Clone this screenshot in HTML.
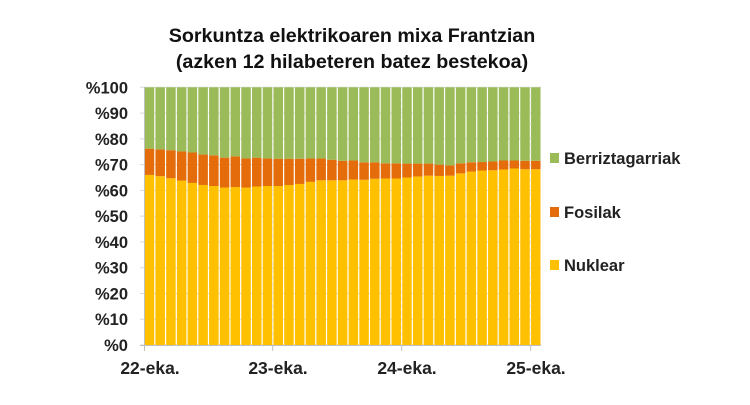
<!DOCTYPE html>
<html><head><style>body{margin:0;background:#fff}</style></head><body>
<svg width="750" height="400" xmlns="http://www.w3.org/2000/svg" font-family="Liberation Sans, sans-serif">
<rect width="750" height="400" fill="#fff"/>
<text x="352" y="42" font-size="19.7" font-weight="bold" text-anchor="middle" fill="#111">Sorkuntza elektrikoaren mixa Frantzian</text>
<text x="352" y="68" font-size="19.7" font-weight="bold" text-anchor="middle" fill="#111">(azken 12 hilabeteren batez bestekoa)</text>
<g id="grid" stroke="#d9d9d9" stroke-width="1"></g>
<g id="bars"></g>
<g id="vgrid" stroke="#e6e6e6" stroke-dasharray="4,3" stroke-width="1" opacity="0.8"></g>
<line x1="144.5" y1="87" x2="144.5" y2="345" stroke="#bfbfbf"/>
<line x1="140" y1="345.5" x2="541" y2="345.5" stroke="#bfbfbf"/>
<g stroke="#bfbfbf"><line x1="144.5" y1="345" x2="144.5" y2="351"/><line x1="272.7" y1="345" x2="272.7" y2="351"/><line x1="401.7" y1="345" x2="401.7" y2="351"/><line x1="530.7" y1="345" x2="530.7" y2="351"/></g>
<g id="lab" font-size="16.5" font-weight="bold" fill="#222" text-anchor="end"></g>
<g font-size="17.5" font-weight="bold" fill="#222" text-anchor="middle">
<text x="150" y="374">22-eka.</text><text x="278" y="374">23-eka.</text><text x="407" y="374">24-eka.</text><text x="536" y="374">25-eka.</text>
</g>
<rect x="550" y="153" width="9" height="10" fill="#9bbb59"/>
<rect x="550" y="207" width="9" height="10" fill="#e46c0a"/>
<rect x="550" y="260" width="9" height="10" fill="#ffc000"/>
<g font-size="16.5" font-weight="bold" fill="#222">
<text x="564" y="164">Berriztagarriak</text><text x="564" y="218">Fosilak</text><text x="564" y="271">Nuklear</text>
</g>
</svg>
<script>
var F=[76.2,75.9,75.6,75.1,74.7,73.9,73.6,72.7,73.2,72.4,72.7,72.4,72.3,72.3,72.3,72.4,72.4,71.9,71.5,71.6,70.9,70.9,70.5,70.5,70.4,70.4,70.4,70,69.7,70.5,70.9,71,71.2,71.6,71.6,71.5,71.5];
var N=[66,65.5,64.7,63.8,62.9,62.1,61.7,61.1,61.3,61.1,61.5,61.7,61.7,62.1,62.5,63.3,63.9,63.9,63.9,64.2,64.1,64.5,64.6,64.6,65,65.4,65.7,65.6,65.7,66.6,67.3,67.7,67.8,68.1,68.5,68.2,68.2];
var ns="http://www.w3.org/2000/svg",b=document.getElementById("bars"),y0=345,s=2.577,w=10.73,x0=144.7;
function r(x,y,wd,h,c){var e=document.createElementNS(ns,"rect");e.setAttribute("x",x);e.setAttribute("y",y);e.setAttribute("width",wd);e.setAttribute("height",h);e.setAttribute("fill",c);b.appendChild(e);}
for(var i=0;i<37;i++){var x=x0+i*w,bw=w-1.2;var yn=y0-N[i]*s,yf=y0-F[i]*s,yt=y0-100*s;
r(x,yn,bw,N[i]*s,"#ffc000");r(x,yf,bw,yn-yf,"#e46c0a");r(x,yt,bw,yf-yt,"#9bbb59");}
var g=document.getElementById("grid"),vg=document.getElementById("vgrid"),l=document.getElementById("lab");
for(var k=0;k<=10;k++){var y=y0-k*10*s;var e=document.createElementNS(ns,"line");e.setAttribute("x1",140);e.setAttribute("x2",541);e.setAttribute("y1",y);e.setAttribute("y2",y);g.appendChild(e);
var t=document.createElementNS(ns,"text");t.setAttribute("x",128);t.setAttribute("y",y+6);t.textContent="%"+(k*10);l.appendChild(t);}
[272.7,401.7,530.7].forEach(function(x){var e=document.createElementNS(ns,"line");e.setAttribute("x1",x);e.setAttribute("x2",x);e.setAttribute("y1",87);e.setAttribute("y2",345);vg.appendChild(e);});
</script>
</body></html>
